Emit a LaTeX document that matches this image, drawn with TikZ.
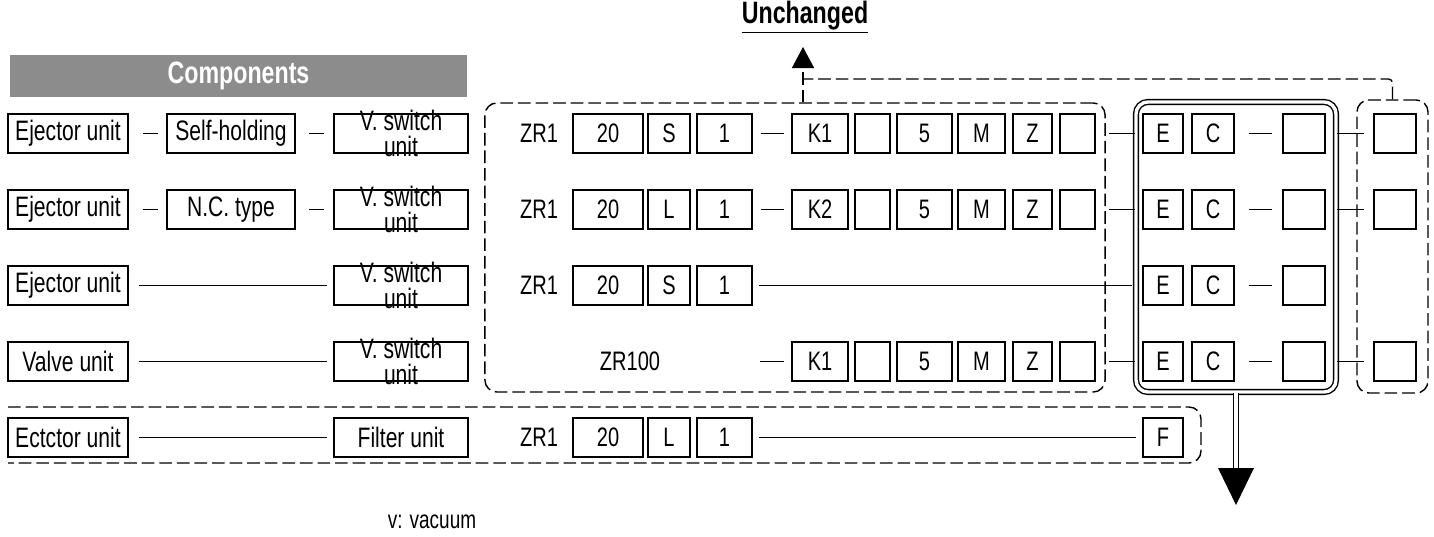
\documentclass[tikz,border=0pt]{standalone}
\usepackage{fontspec}
\usepackage{tikz}
\usetikzlibrary{arrows.meta, positioning}
\newfontfamily\figfont[FakeStretch=0.75]{Liberation Sans}

\begin{document}
\begin{tikzpicture}[
  x=0.025cm, y=-0.025cm,
  box/.style={rectangle, draw=black, line width=1.2pt, inner sep=0pt, minimum height=0.98cm, font=\figfont\fontsize{20}{23}\selectfont},
  cbox/.style={box, font=\figfont\fontsize{19}{22}\selectfont},
  unitbox/.style={box, minimum width=3cm},
  optbox/.style={box, minimum width=3.2cm},
  vsw/.style={box, minimum width=3.35cm, label={[align=center, inner sep=0pt, font=\figfont\fontsize{20}{18.5}\selectfont]center:{V. switch\\unit}}},
  txt/.style={inner sep=0pt, font=\figfont\fontsize{19}{22}\selectfont},
  banner/.style={rectangle, fill=black!45, minimum width=11.425cm, minimum height=1.05cm, text=white, font=\figfont\bfseries\fontsize{22}{26}\selectfont},
  grpbox/.style={draw=black, line width=1pt, dash pattern=on 9pt off 3.5pt, rounded corners=0.3cm, inner sep=0pt},
  link/.style={line width=0.9pt},
  dline/.style={line width=1pt, dash pattern=on 9pt off 3.5pt}
]
\useasboundingbox (0,0) rectangle (1434,537);

% Groups
\node (grp) [grpbox, minimum width=15.5cm, minimum height=7.225cm] at (795,247.5) {};
\node (ecbox) [draw=black, line width=1pt, double, double distance=2.4pt, rounded corners=0.3cm, minimum width=5cm, minimum height=7.25cm] at (1236,247) {};
\node (rgrp) [grpbox, minimum width=1.775cm, minimum height=7.325cm] at (1392.5,246.5) {};
\draw [dline, rounded corners=0.3cm] (8,407) -- (1201,407) -- (1201,463) -- (8,463);

% Headings
\node (unch) [txt, font=\figfont\bfseries\fontsize{22}{26}\selectfont] at (805,17) {\underline{Unchanged}};
\node (comp) [banner] at (238.5,76) {Components};
\node (note) [txt, font=\figfont\fontsize{18}{21}\selectfont] at (432,522) {v: vacuum};

% Components
\node (ej1) [unitbox] at (68,133.5) {Ejector unit};
\node (sh1) [optbox] at (231,133.5) {Self-holding};
\node (vs1) [vsw] at (401,133.5) {};
\node (ej2) [unitbox] at (68,209.5) {Ejector unit};
\node (nc2) [optbox] at (231,209.5) {N.C. type};
\node (vs2) [vsw] at (401,209.5) {};
\node (ej3) [unitbox] at (68,285.5) {Ejector unit};
\node (vs3) [vsw] at (401,285.5) {};
\node (vu4) [unitbox] at (68,361.5) {Valve unit};
\node (vs4) [vsw] at (401,361.5) {};
\node (ec5) [unitbox] at (68,437.5) {Ectctor unit};
\node (fu5) [box, minimum width=3.35cm] at (401,437.5) {Filter unit};

\draw [link, shorten <=0.35cm, shorten >=0.2cm] (ej1) -- (sh1);
\draw [link, shorten <=0.325cm, shorten >=0.225cm] (sh1) -- (vs1);
\draw [link, shorten <=0.35cm, shorten >=0.2cm] (ej2) -- (nc2);
\draw [link, shorten <=0.325cm, shorten >=0.225cm] (nc2) -- (vs2);
\draw [link, shorten <=0.25cm, shorten >=0.15cm] (ej3) -- (vs3);
\draw [link, shorten <=0.25cm, shorten >=0.15cm] (vu4) -- (vs4);
\draw [link, shorten <=0.25cm, shorten >=0.15cm] (ec5) -- (fu5);

% Model codes
\foreach \r/\y/\s in {1/133.5/S, 2/209.5/L, 3/285.5/S, 5/437.5/L} {
  \node (zr\r) [txt] at (539,\y) {ZR1};
  \node (sz\r) [cbox, minimum width=1.75cm] at (608,\y) {20};
  \node (ty\r) [cbox, minimum width=1.05cm] at (669,\y) {\s};
  \node (st\r) [cbox, minimum width=1.375cm] at (724.5,\y) {1};
}
\node (zr4) [txt] at (630,361.5) {ZR100};
\coordinate (d4) at (760,361.5);

\foreach \r/\y in {1/133.5, 2/209.5, 3/285.5, 4/361.5} {
  \node (e\r) [cbox, minimum width=1cm] at (1163,\y) {E};
  \node (c\r) [cbox, minimum width=1.05cm] at (1213,\y) {C};
  \node (q\r) [cbox, minimum width=1.05cm] at (1304,\y) {};
  \draw [link, shorten <=0.35cm, shorten >=0.25cm] (c\r) -- (q\r);
}

\foreach \r/\y/\k in {1/133.5/K1, 2/209.5/K2, 4/361.5/K1} {
  \node (k\r) [cbox, minimum width=1.4cm] at (820,\y) {\k};
  \node (ka\r) [cbox, minimum width=0.875cm] at (872.5,\y) {};
  \node (v\r) [cbox, minimum width=1.375cm] at (924.5,\y) {5};
  \node (m\r) [cbox, minimum width=1.175cm] at (981.5,\y) {M};
  \node (z\r) [cbox, minimum width=0.975cm] at (1032.5,\y) {Z};
  \node (kb\r) [cbox, minimum width=0.875cm] at (1077.5,\y) {};
  \node (p\r) [cbox, minimum width=1.05cm] at (1395,\y) {};
  \draw [link, shorten <=0.075cm] (grp.east |- kb\r) -- (ecbox.west |- kb\r);
  \draw [link, shorten >=0.225cm] (ecbox.east |- p\r) -- (p\r);
}
\node (f5) [cbox, minimum width=1cm] at (1163,437.5) {F};

\draw [link, shorten <=0.2cm, shorten >=0.175cm] (st1) -- (k1);
\draw [link, shorten <=0.2cm, shorten >=0.175cm] (st2) -- (k2);
\draw [link, shorten >=0.175cm] (d4) -- (k4);
\draw [link, shorten <=0.15cm, shorten >=0.075cm] (st3) -- (ecbox.west |- st3);
\draw [link, shorten <=0.15cm, shorten >=0.15cm] (st5) -- (f5);

% Arrows
\coordinate (uptip) at (803,47);
\coordinate (jn) at (803,79);
\draw [dline, rounded corners=0.1cm] (rgrp.north) |- (jn);
\draw [dline, -{Triangle[width=0.55cm, length=0.525cm]}] (jn |- grp.north) -- (uptip);
\coordinate (dtip) at (1236,505);
\draw [line width=1pt, double distance=2.8pt] (ecbox.south) -- ([yshift=0.9cm]dtip);
\fill (dtip) -- ++(-18,-37) -- ++(36,0) -- cycle;
\end{tikzpicture}
\end{document}
